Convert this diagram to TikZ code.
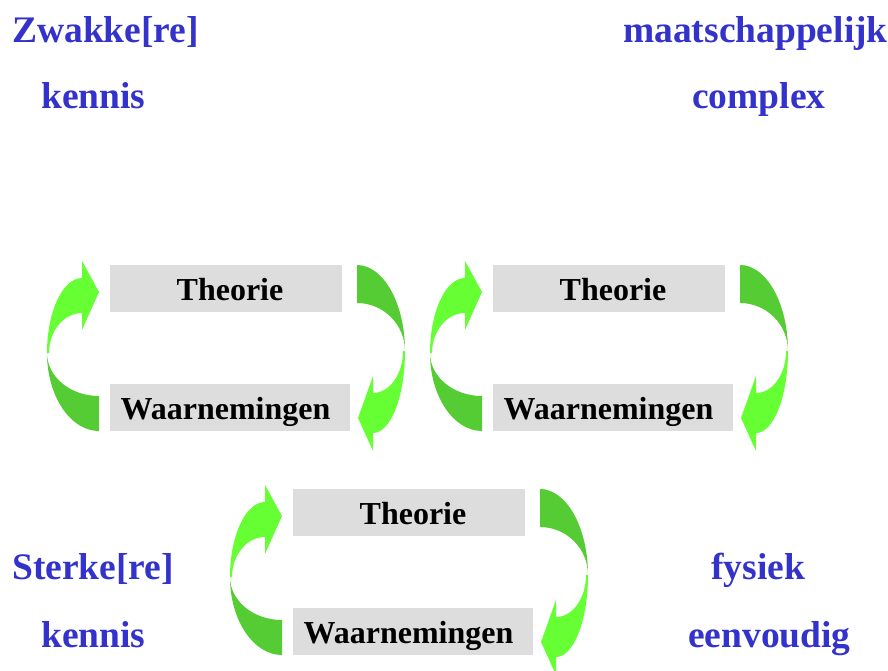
\documentclass[tikz,border=0pt]{standalone}
\usepackage{fontspec}
\setmainfont{Liberation Serif}
\definecolor{lightgr}{HTML}{66FF33}
\definecolor{darkgr}{HTML}{55CC33}
\definecolor{boxgray}{HTML}{DDDDDD}
\definecolor{labelblue}{HTML}{3333CC}
\tikzset{
  graybox/.style={fill=boxgray, draw=none, inner sep=0pt, minimum height=47pt,
    text height=24pt, text depth=0pt, font=\bfseries\fontsize{32}{35}\selectfont},
  bluelabel/.style={anchor=base west, inner sep=0pt, text=labelblue,
    font=\bfseries\fontsize{37.5}{41}\selectfont},
  cyclepic/.pic={
    \node[graybox, minimum width=232pt] (-t) at (116,23.5) {\hspace*{8pt}Theorie};
    \node[graybox, minimum width=240pt] (-w) at (120,142.5) {Waarnemingen\hspace*{9pt}};
    % left arrow: back (dark) part
    \fill[darkgr] (-11,166) .. controls (-39.7,166) and (-63,131) .. (-63,88)
      .. controls (-63,111.7) and (-39.7,131) .. (-11,131) -- cycle;
    % left arrow: front (light) part with head
    \fill[lightgr] (-63,88) .. controls (-63,46.6) and (-47.3,13) .. (-28,13)
      -- (-28,-4) -- (-11,27) -- (-28,65) -- (-28,48)
      .. controls (-46.2,48) and (-61,66) .. (-61,88) -- cycle;
    % right arrow: back (dark) part
    \fill[darkgr] (247,0) .. controls (273.5,0) and (295,38.5) .. (295,86)
      .. controls (295,59.5) and (273.5,38) .. (247,38) -- cycle;
    % right arrow: front (light) part with head
    \fill[lightgr] (295,86) .. controls (295,131.3) and (280.7,168) .. (263,168)
      -- (263,186) -- (248,153) -- (263,111) -- (263,128)
      .. controls (279.6,128) and (293,109.2) .. (293,86) -- cycle;
  }
}
\begin{document}
\begin{tikzpicture}[x=1pt,y=-1pt]
\useasboundingbox (0,0) rectangle (888,670);
\pic (c1) at (110,265) {cyclepic};
\pic (c2) at (493,265) {cyclepic};
\pic (c3) at (293,489) {cyclepic};
\node[bluelabel] (zw) at (12,42) {Zwakke[re]};
\node[bluelabel] (k1) at (41,108) {kennis};
\node[bluelabel] (ma) at (623,42) {maatschappelijk};
\node[bluelabel] (co) at (692,108) {complex};
\node[bluelabel] (st) at (12,579) {Sterke[re]};
\node[bluelabel] (k2) at (41,647) {kennis};
\node[bluelabel] (fy) at (711,579) {fysiek};
\node[bluelabel] (ee) at (688,647) {eenvoudig};
\end{tikzpicture}
\end{document}
